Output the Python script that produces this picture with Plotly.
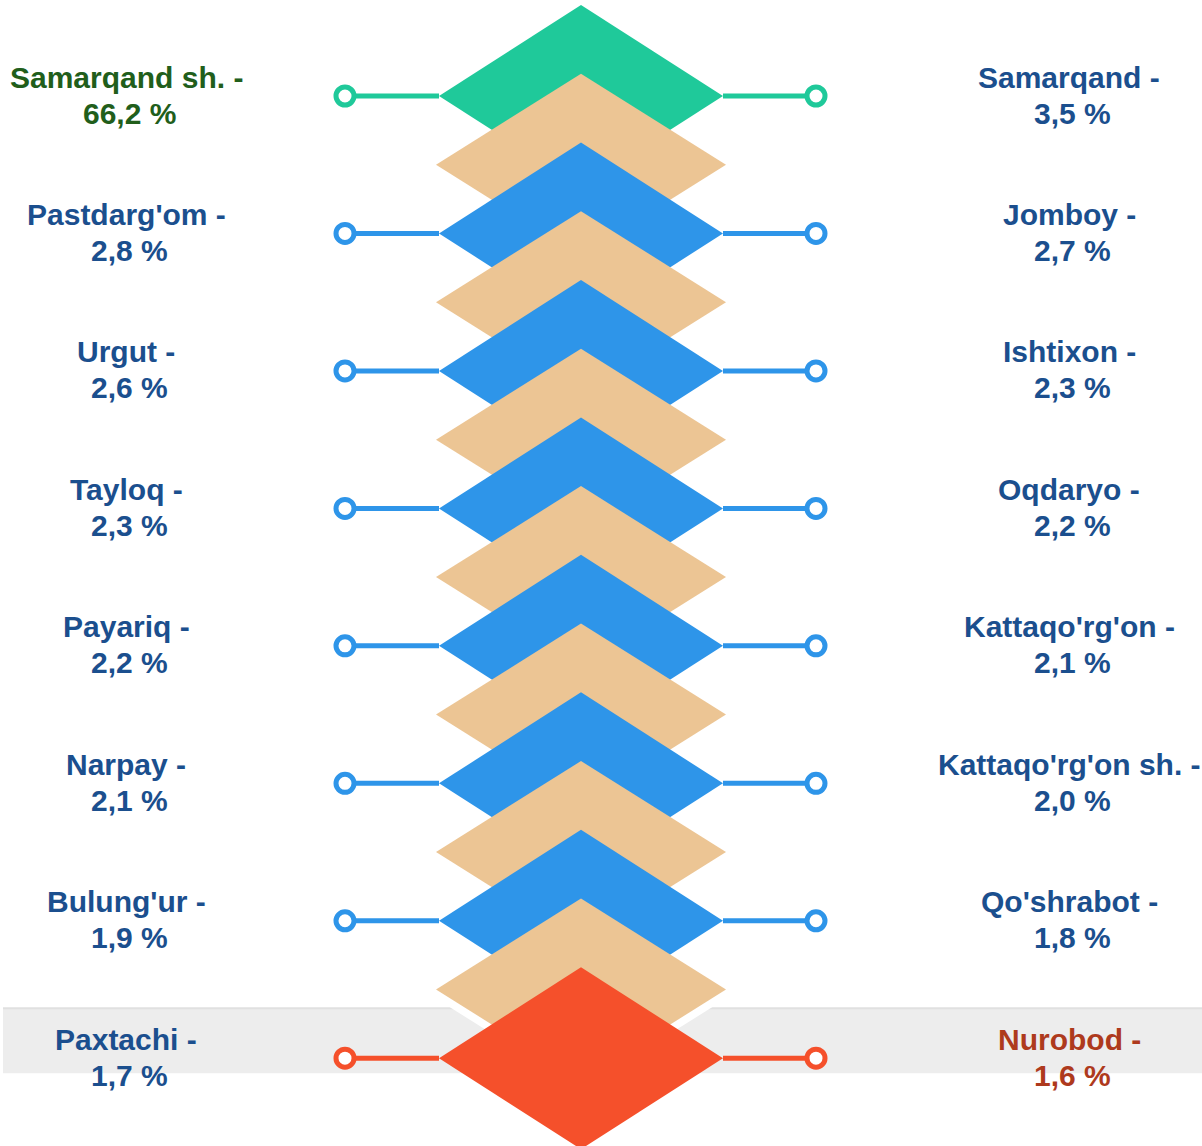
import plotly.graph_objects as go

# ---- data ----
left_names = ["Samarqand sh.", "Pastdarg'om", "Urgut", "Tayloq", "Payariq", "Narpay", "Bulung'ur", "Paxtachi"]
left_values = [66.2, 2.8, 2.6, 2.3, 2.2, 2.1, 1.9, 1.7]
right_names = ["Samarqand", "Jomboy", "Ishtixon", "Oqdaryo", "Kattaqo'rg'on", "Kattaqo'rg'on sh.", "Qo'shrabot", "Nurobod"]
right_values = [3.5, 2.7, 2.3, 2.2, 2.1, 2.0, 1.8, 1.6]

# ---- layout constants ----
W, H = 1202, 1146
ROW0, STEP = 96.0, 137.46      # vertical placement of rows (axis units = px)
CX = 581                        # centre of the diamond column
HW_MAIN, HH_MAIN = 142, 91      # half width / height of row diamonds
HW_TAN, HH_TAN = 145, 91        # half width / height of in-between diamonds
CIRC_L, CIRC_R = 345, 816       # connector end-point x
TXT_L, TXT_R = 129, 1072        # label centres

GREEN, TAN, BLUE, RED = "#1fc99a", "#ecc594", "#2e95e9", "#f5502b"
TXT_BLUE, TXT_GREEN, TXT_RED = "#1b4f8e", "#215e1b", "#ae3a1d"
FONT = "Liberation Sans, Arial, sans-serif"

n = len(left_names)
row_y = [ROW0 + i * STEP for i in range(n)]


def row_color(i):
    if i == 0:
        return GREEN
    if i == n - 1:
        return RED
    return BLUE


def diamond(cx, cy, hw, hh):
    return [cx - hw, cx, cx + hw, cx, cx - hw], [cy, cy - hh, cy, cy + hh, cy]


def fmt(v):
    return f"{v:.1f}".replace(".", ",") + " %"


fig = go.Figure()

# connectors (lines)
for i, y in enumerate(row_y):
    c = row_color(i)
    for xs in ([CIRC_L, CX - HW_MAIN], [CX + HW_MAIN, CIRC_R]):
        fig.add_trace(go.Scatter(x=xs, y=[y, y], mode="lines",
                                 line=dict(color=c, width=5), hoverinfo="skip"))

# diamonds: row diamond then in-between tan diamond, each over the previous
for i, y in enumerate(row_y):
    xs, ys = diamond(CX, y, HW_MAIN, HH_MAIN)
    fig.add_trace(go.Scatter(x=xs, y=ys, mode="lines", fill="toself",
                             fillcolor=row_color(i), line=dict(width=0, color=row_color(i)),
                             hoverinfo="skip"))
    if i < n - 1:
        ym = (y + row_y[i + 1]) / 2
        sx, sy = diamond(CX, ym + 9, HW_TAN, HH_TAN)
        fig.add_trace(go.Scatter(x=sx, y=sy, mode="lines", fill="toself",
                                 fillcolor="white", line=dict(width=0, color="white"),
                                 hoverinfo="skip"))
        tx, ty = diamond(CX, ym, HW_TAN, HH_TAN)
        fig.add_trace(go.Scatter(x=tx, y=ty, mode="lines", fill="toself",
                                 fillcolor=TAN, line=dict(width=0, color=TAN),
                                 hoverinfo="skip"))

# end circles
for i, y in enumerate(row_y):
    c = row_color(i)
    fig.add_trace(go.Scatter(x=[CIRC_L, CIRC_R], y=[y, y], mode="markers",
                             marker=dict(size=18, color="white", line=dict(color=c, width=5)),
                             hoverinfo="skip"))

# labels
annotations = []
for i, y in enumerate(row_y):
    lc = TXT_GREEN if i == 0 else TXT_BLUE
    rc = TXT_RED if i == n - 1 else TXT_BLUE
    for x, name, val, col in ((TXT_L, left_names[i], left_values[i], lc),
                              (TXT_R, right_names[i], right_values[i], rc)):
        annotations.append(dict(x=x - 3, y=y - 19, text=f"<b>{name} -</b>", showarrow=False,
                                xanchor="center", yanchor="middle",
                                font=dict(family=FONT, size=30, color=col)))
        annotations.append(dict(x=x, y=y + 17, text=f"<b>{fmt(val)}</b>", showarrow=False,
                                xanchor="center", yanchor="middle",
                                font=dict(family=FONT, size=30, color=col)))

last = row_y[-1]
shapes = [
    dict(type="rect", xref="x", yref="y", x0=3, x1=W, y0=last - 50, y1=last + 15,
         fillcolor="#ededed", line=dict(width=0), layer="below"),
    dict(type="line", xref="x", yref="y", x0=3, x1=W, y0=last - 50, y1=last - 50,
         line=dict(color="#e0e0e0", width=2), layer="below"),
]

fig.update_layout(
    width=W, height=H, autosize=False,
    margin=dict(l=0, r=0, t=0, b=0, pad=0),
    paper_bgcolor="white", plot_bgcolor="white",
    showlegend=False,
    xaxis=dict(range=[0, W], visible=False, fixedrange=True),
    yaxis=dict(range=[H, 0], visible=False, fixedrange=True),
    annotations=annotations,
    shapes=shapes,
)

fig.write_html("out.html", config={"displayModeBar": False},
               post_script="document.body.style.margin='0';document.body.style.overflow='hidden';")
